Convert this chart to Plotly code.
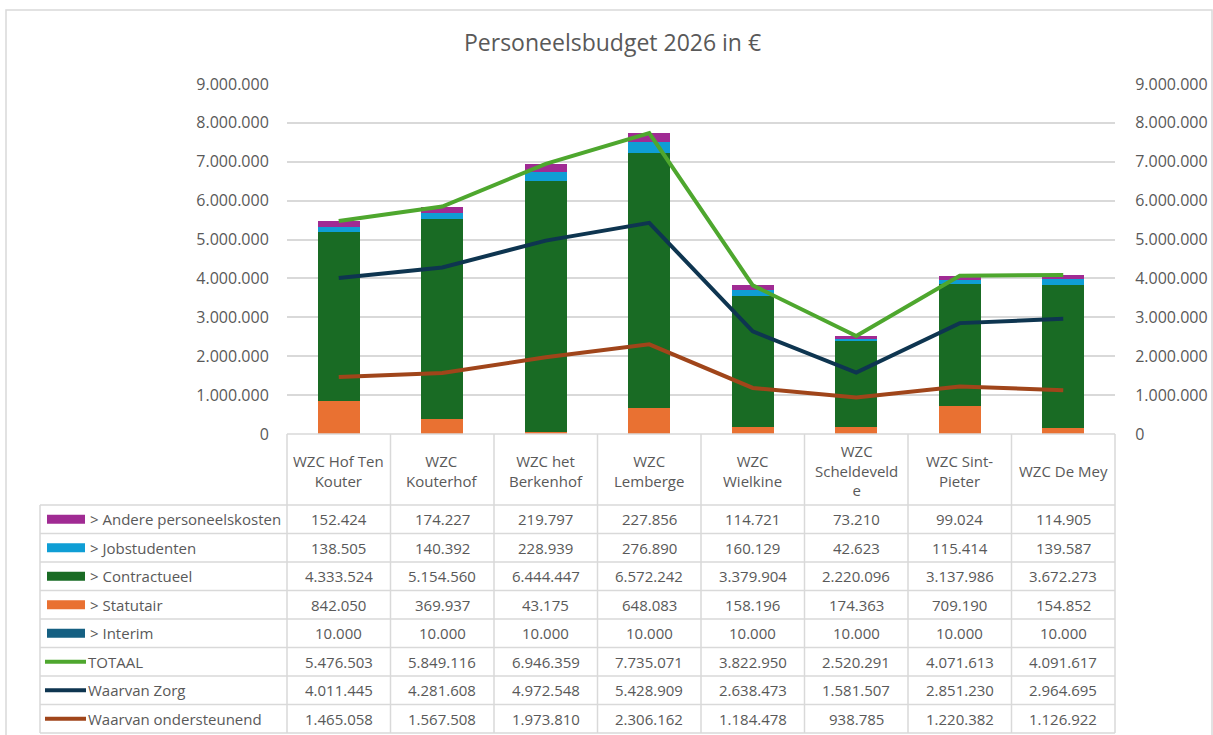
import plotly.graph_objects as go

# ---------------- data ----------------
categories = ["WZC Hof Ten Kouter", "WZC Kouterhof", "WZC het Berkenhof", "WZC Lemberge",
              "WZC Wielkine", "WZC Scheldevelde", "WZC Sint-Pieter", "WZC De Mey"]
header_labels = ["WZC Hof Ten<br>Kouter", "WZC<br>Kouterhof", "WZC het<br>Berkenhof", "WZC<br>Lemberge",
                 "WZC<br>Wielkine", "WZC<br>Scheldeveld<br>e", "WZC Sint-<br>Pieter", "WZC De Mey"]

interim = [10000, 10000, 10000, 10000, 10000, 10000, 10000, 10000]
statutair = [842050, 369937, 43175, 648083, 158196, 174363, 709190, 154852]
contractueel = [4333524, 5154560, 6444447, 6572242, 3379904, 2220096, 3137986, 3672273]
jobstudenten = [138505, 140392, 228939, 276890, 160129, 42623, 115414, 139587]
andere = [152424, 174227, 219797, 227856, 114721, 73210, 99024, 114905]
totaal = [5476503, 5849116, 6946359, 7735071, 3822950, 2520291, 4071613, 4091617]
zorg = [4011445, 4281608, 4972548, 5428909, 2638473, 1581507, 2851230, 2964695]
ondersteunend = [1465058, 1567508, 1973810, 2306162, 1184478, 938785, 1220382, 1126922]

y_ticks = [0, 1000000, 2000000, 3000000, 4000000, 5000000, 6000000, 7000000, 8000000, 9000000]

# ---------------- styling ----------------
W, H = 1213, 735
FONT = "Open Sans"
TXT = "#595959"
GRID = "#D9D9D9"
C_INTERIM = "#156082"
C_STAT = "#E97132"
C_CONTR = "#196B24"
C_JOB = "#0F9ED5"
C_ANDERE = "#A02B93"
C_TOT = "#4EA72E"
C_ZORG = "#0E3550"
C_OND = "#A0451A"

PLOT_L, PLOT_R = 287, 1115
PLOT_T, PLOT_B = 84, 434
HEADER_B = 505
ROW_H = 28.5
TABLE_L = 40
TS = 15  # table font size


def px(x):
    return x / W


def py(y):
    return 1 - y / H


def fmt(v):
    return f"{v:,}".replace(",", ".")


fig = go.Figure()

bar_series = [
    ("> Interim", interim, C_INTERIM),
    ("> Statutair", statutair, C_STAT),
    ("> Contractueel", contractueel, C_CONTR),
    ("> Jobstudenten", jobstudenten, C_JOB),
    ("> Andere personeelskosten", andere, C_ANDERE),
]
for name, vals, col in bar_series:
    fig.add_trace(go.Bar(x=categories, y=vals, name=name, marker=dict(color=col, line=dict(width=0)),
                         yaxis="y"))

line_series = [
    ("TOTAAL", totaal, C_TOT, 4),
    ("Waarvan Zorg", zorg, C_ZORG, 4),
    ("Waarvan ondersteunend", ondersteunend, C_OND, 4),
]
for name, vals, col, w in line_series:
    fig.add_trace(go.Scatter(x=categories, y=vals, name=name, mode="lines",
                             line=dict(color=col, width=w), yaxis="y2"))

fig.update_layout(
    width=W, height=H,
    margin=dict(l=0, r=0, t=0, b=0, pad=0, autoexpand=False),
    paper_bgcolor="white", plot_bgcolor="white",
    barmode="stack", bargap=0.59,
    showlegend=False,
    separators=",.",
    font=dict(family=FONT, color=TXT, size=TS),
    xaxis=dict(domain=[px(PLOT_L), px(PLOT_R)], showticklabels=False, showgrid=False,
               zeroline=False, showline=False, ticks="", automargin=False),
    yaxis=dict(domain=[py(PLOT_B), py(PLOT_T)], range=[0, 9000000], tickvals=y_ticks,
               tickformat=",d", showgrid=True, gridcolor=GRID, gridwidth=1.5, zeroline=False,
               showline=False, ticks="outside", ticklen=14, tickcolor="rgba(0,0,0,0)",
               tickfont=dict(size=16, color=TXT), automargin=False),
    yaxis2=dict(overlaying="y", side="right", range=[0, 9000000], tickvals=y_ticks,
                tickformat=",d", showgrid=False, zeroline=False, showline=False,
                ticks="outside", ticklen=16, tickcolor="rgba(0,0,0,0)",
                tickfont=dict(size=16, color=TXT), anchor="x", automargin=False),
)

annotations = []
shapes = []

# title
annotations.append(dict(text="Personeelsbudget 2026 in €", x=px(612), y=py(42), xref="paper", yref="paper",
                        showarrow=False, font=dict(size=23, color=TXT, family=FONT),
                        xanchor="center", yanchor="middle"))

# outer chart border
shapes.append(dict(type="rect", xref="paper", yref="paper", x0=px(6), x1=px(1212), y0=py(10), y1=py(745),
                   line=dict(color=GRID, width=1.5)))

n = len(categories)
col_w = (PLOT_R - PLOT_L) / n
rows = [
    ("> Andere personeelskosten", andere, C_ANDERE, "bar"),
    ("> Jobstudenten", jobstudenten, C_JOB, "bar"),
    ("> Contractueel", contractueel, C_CONTR, "bar"),
    ("> Statutair", statutair, C_STAT, "bar"),
    ("> Interim", interim, C_INTERIM, "bar"),
    ("TOTAAL", totaal, C_TOT, "line"),
    ("Waarvan Zorg", zorg, C_ZORG, "line"),
    ("Waarvan ondersteunend", ondersteunend, C_OND, "line"),
]
table_bottom = HEADER_B + ROW_H * len(rows)

LC = dict(color=GRID, width=1.5)
# header top line (axis line)
shapes.append(dict(type="line", xref="paper", yref="paper", x0=px(PLOT_L), x1=px(PLOT_R),
                   y0=py(PLOT_B), y1=py(PLOT_B), line=LC))
# row lines
for r in range(len(rows) + 1):
    yy = HEADER_B + ROW_H * r
    shapes.append(dict(type="line", xref="paper", yref="paper", x0=px(TABLE_L), x1=px(PLOT_R),
                       y0=py(yy), y1=py(yy), line=LC))
# vertical lines
shapes.append(dict(type="line", xref="paper", yref="paper", x0=px(TABLE_L), x1=px(TABLE_L),
                   y0=py(HEADER_B), y1=py(table_bottom), line=LC))
for c in range(n + 1):
    xx = PLOT_L + col_w * c
    shapes.append(dict(type="line", xref="paper", yref="paper", x0=px(xx), x1=px(xx),
                       y0=py(PLOT_B), y1=py(table_bottom), line=LC))

# header labels
for c, lab in enumerate(header_labels):
    xc = PLOT_L + col_w * (c + 0.5)
    annotations.append(dict(text=lab, x=px(xc), y=py((PLOT_B + HEADER_B) / 2 + 1), xref="paper", yref="paper",
                            showarrow=False, font=dict(size=TS, color=TXT, family=FONT),
                            xanchor="center", yanchor="middle", align="center"))

# rows
for r, (name, vals, col, kind) in enumerate(rows):
    yc = HEADER_B + ROW_H * (r + 0.5)
    if kind == "bar":
        shapes.append(dict(type="rect", xref="paper", yref="paper", x0=px(47), x1=px(85),
                           y0=py(yc - 4.5), y1=py(yc + 4.5), fillcolor=col, line=dict(width=0)))
        tx = 88
    else:
        shapes.append(dict(type="line", xref="paper", yref="paper", x0=px(45), x1=px(86),
                           y0=py(yc), y1=py(yc), line=dict(color=col, width=4)))
        tx = 86
    annotations.append(dict(text=name, x=px(tx), y=py(yc), xref="paper", yref="paper", showarrow=False,
                            font=dict(size=TS, color=TXT, family=FONT), xanchor="left", yanchor="middle"))
    for c, v in enumerate(vals):
        xc = PLOT_L + col_w * (c + 0.5)
        annotations.append(dict(text=fmt(v), x=px(xc), y=py(yc), xref="paper", yref="paper",
                                showarrow=False, font=dict(size=TS, color=TXT, family=FONT),
                                xanchor="center", yanchor="middle"))

fig.update_layout(annotations=annotations, shapes=shapes)
fig.write_html("out.html", config={"displayModeBar": False},
               post_script="document.body.style.margin='0';document.body.style.overflow='hidden';")
